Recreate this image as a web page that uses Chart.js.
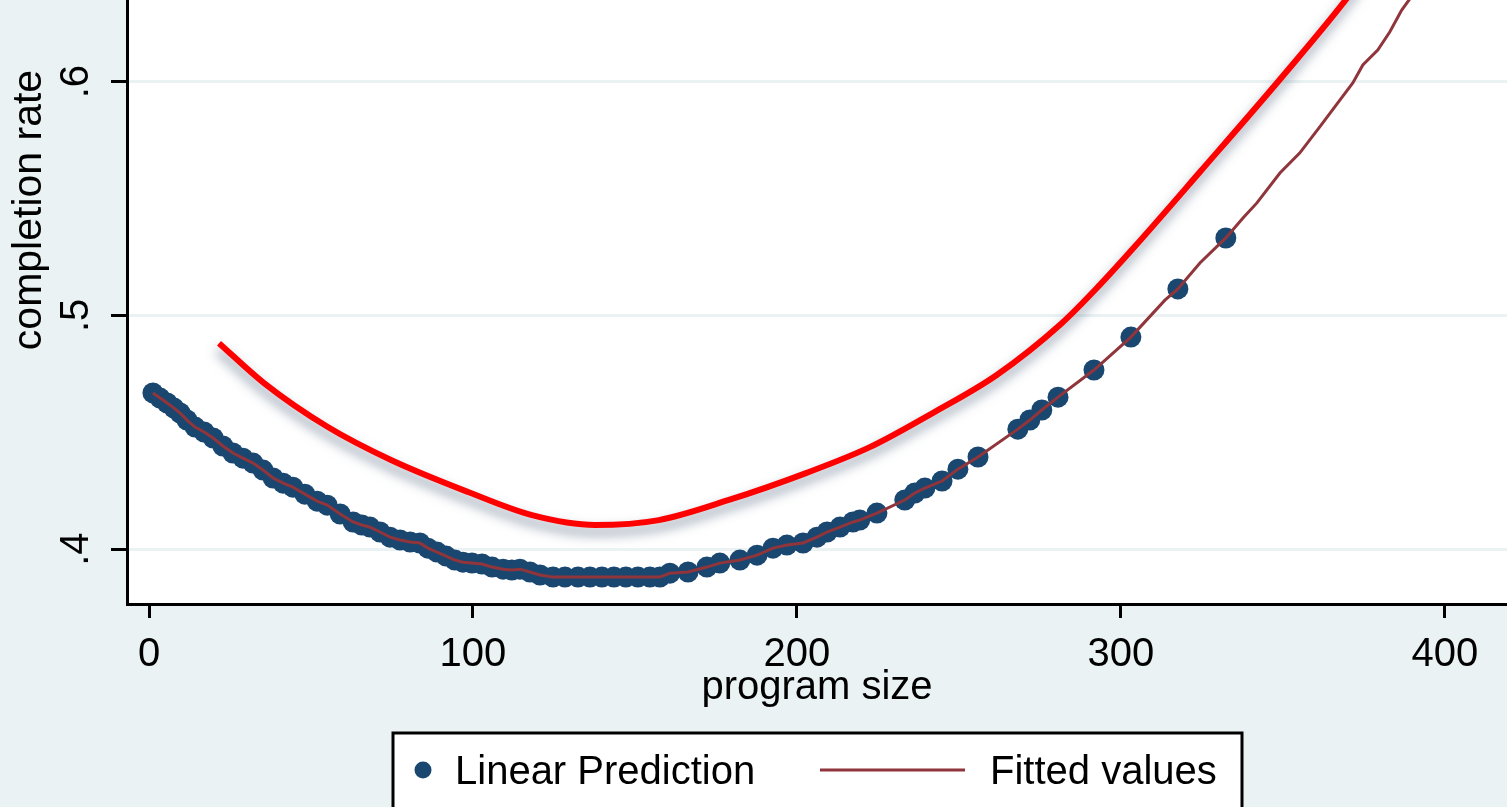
<!DOCTYPE html>
<html>
<head>
<meta charset="utf-8">
<title>completion rate by program size</title>
<script src="https://cdn.jsdelivr.net/npm/chart.js@4/dist/chart.umd.min.js"></script>
<style>
  html, body { margin: 0; padding: 0; background: #eaf2f3; }
  #wrap { width: 1507px; height: 807px; position: relative; }
</style>
</head>
<body>
<div id="wrap"><canvas id="chart"></canvas></div>
<script>
// program size (x) and predicted completion rate (y) for the scatter
const predSize = [1.2, 3.4, 5.6, 7.7, 9.6, 11.7, 14.2, 17.0, 19.8, 22.8, 25.9, 29.0, 32.1, 35.2, 38.3, 41.4, 44.4, 48.1, 51.9, 55.0,
  59.0, 63.0, 65.7, 68.2, 71.3, 74.4, 77.5, 80.6, 83.6, 86.1, 88.9, 91.7, 94.4, 96.9, 99.7, 102.8, 105.9, 109.3, 112.0, 114.5,
  117.6, 120.7, 124.7, 128.4, 132.4, 136.1, 139.8, 143.5, 147.2, 150.9, 154.6, 157.7, 160.8,
  166.4, 172.2, 176.2, 182.4, 187.7, 192.6, 196.9, 201.9, 206.2, 209.3, 213.3, 217.3, 219.4, 224.7,
  233.3, 236.4, 239.5, 244.8, 249.7, 255.9, 268.2, 271.9, 275.6, 280.6, 291.7, 303.1, 317.6, 332.4];
const predRate = [.4668, .4646, .4625, .4603, .4582, .4552, .4522, .4501, .4475, .4441, .4411, .4389, .4368, .4338, .4304, .4282, .4265, .4235, .4205, .4188,
  .4150, .4116, .4103, .4094, .4073, .4051, .4039, .4030, .4026, .4004, .3987, .3970, .3953, .3944, .3940, .3936, .3923, .3914, .3910, .3914,
  .3902, .3889, .3880, .3880, .3880, .3880, .3880, .3880, .3880, .3880, .3880, .3880, .3897,
  .3902, .3923, .3940, .3953, .3974, .4004, .4017, .4026, .4051, .4073, .4094, .4116, .4124, .4154,
  .4210, .4240, .4261, .4291, .4342, .4394, .4513, .4552, .4595, .4650, .4766, .4907, .5113, .5331];

// extra fitted-value points where there are no scatter dots
const fitExtraSize = [313.6, 324.4, 337.7, 342.0, 349.1, 355.2, 361.4, 367.6, 371.6, 374.7, 379.3, 383.0, 386.7, 390.1];
const fitExtraRate = [.5065, .5224, .5416, .5481, .5609, .5694, .5806, .5921, .5994, .6071, .6135, .6212, .6306, .6371];

// smooth red curve
const curveSize = [21.6, 35.5, 55.2, 74.7, 98.5, 118.2, 137.7, 157.4, 179.0, 202.8, 222.5, 241.9, 261.7, 281.5, 293.5, 304.3, 324.4, 350.0, 370.1, 376.0];
const curveRate = [.4881, .4710, .4522, .4381, .4244, .4145, .4103, .4124, .4210, .4325, .4436, .4582, .4745, .4963, .5130, .5294, .5613, .6024, .6362, .6475];

const xTicks = [0, 100, 200, 300, 400];
const yTicks = [0.4, 0.5, 0.6];
const yTickLabels = ['.4', '.5', '.6'];

const FONT = 'Liberation Sans, Arial, Helvetica, sans-serif';
const NAVY = '#1a476f';
const MAROON = '#90353b';

const predPoints = predSize.map((s, i) => ({x: s, y: predRate[i]}));
const fitPoints = predPoints.concat(fitExtraSize.map((s, i) => ({x: s, y: fitExtraRate[i]})))
  .sort((a, b) => a.x - b.x);
const curvePoints = curveSize.map((s, i) => ({x: s, y: curveRate[i]}));

// white plot region
const plotBg = {
  id: 'plotBg',
  beforeDraw(chart) {
    const a = chart.chartArea;
    const ctx = chart.ctx;
    ctx.save();
    ctx.fillStyle = '#ffffff';
    ctx.fillRect(a.left, a.top, a.right - a.left, a.bottom - a.top);
    ctx.restore();
  }
};

// drop shadow under the red curve
const curveShadow = {
  id: 'curveShadow',
  beforeDatasetDraw(chart, args) {
    if (args.index !== 2) return;
    const ctx = chart.ctx;
    ctx.save();
    ctx.shadowColor = 'rgba(60, 80, 110, 0.6)';
    ctx.shadowBlur = 12;
    ctx.shadowOffsetX = -1;
    ctx.shadowOffsetY = 7;
  },
  afterDatasetDraw(chart, args) {
    if (args.index !== 2) return;
    chart.ctx.restore();
  }
};

// y axis title sits off-centre because the original plot is cropped at the top
const yTitle = {
  id: 'yTitle',
  afterDraw(chart) {
    const ctx = chart.ctx;
    ctx.save();
    ctx.translate(30, 210);
    ctx.rotate(-Math.PI / 2);
    ctx.font = '41px ' + FONT;
    ctx.fillStyle = '#000';
    ctx.textAlign = 'center';
    ctx.textBaseline = 'middle';
    ctx.fillText('completion rate', 0, 0);
    ctx.restore();
  }
};

// boxed legend at the bottom
const boxLegend = {
  id: 'boxLegend',
  afterDraw(chart) {
    const ctx = chart.ctx;
    const ds = chart.data.datasets;
    ctx.save();
    ctx.fillStyle = '#ffffff';
    ctx.fillRect(393, 733, 849, 90);
    ctx.strokeStyle = '#000';
    ctx.lineWidth = 3;
    ctx.strokeRect(393, 733, 849, 90);

    ctx.fillStyle = NAVY;
    ctx.beginPath();
    ctx.arc(423, 770, 8.5, 0, Math.PI * 2);
    ctx.fill();

    ctx.strokeStyle = MAROON;
    ctx.lineWidth = 3;
    ctx.beginPath();
    ctx.moveTo(820, 770);
    ctx.lineTo(965, 770);
    ctx.stroke();

    ctx.fillStyle = '#000';
    ctx.font = '40px ' + FONT;
    ctx.textBaseline = 'middle';
    ctx.fillText(ds[0].label, 455, 773);
    ctx.fillText(ds[1].label, 990, 773);
    ctx.restore();
  }
};

new Chart(document.getElementById('chart'), {
  type: 'scatter',
  data: {
    datasets: [
      {
        label: 'Linear Prediction',
        data: predPoints,
        showLine: false,
        pointRadius: 10.5,
        pointBackgroundColor: NAVY,
        pointBorderWidth: 0,
        order: 2
      },
      {
        label: 'Fitted values',
        data: fitPoints,
        showLine: true,
        pointRadius: 0,
        borderColor: MAROON,
        borderWidth: 3,
        tension: 0,
        order: 1
      },
      {
        label: 'curve',
        data: curvePoints,
        showLine: true,
        pointRadius: 0,
        borderColor: '#ff0000',
        borderWidth: 6,
        cubicInterpolationMode: 'monotone',
        order: 3
      }
    ]
  },
  options: {
    responsive: true,
    maintainAspectRatio: false,
    animation: false,
    layout: { padding: 0, autoPadding: false },
    plugins: {
      legend: { display: false },
      tooltip: { enabled: false }
    },
    scales: {
      x: {
        type: 'linear',
        min: -6.8,
        max: 419.2,
        afterFit(scale) {
          scale.height = 203;
          scale.paddingLeft = 0;
          scale.paddingRight = 0;
        },
        afterBuildTicks(scale) {
          scale.ticks = xTicks.map(v => ({value: v}));
        },
        ticks: { padding: 13, color: '#000', font: { size: 40, family: FONT }, maxRotation: 0, autoSkip: false },
        grid: { drawOnChartArea: false, tickColor: '#000', tickWidth: 3, tickLength: 14 },
        border: { color: '#000', width: 3 },
        title: {
          display: true,
          text: 'program size',
          color: '#000',
          font: { size: 40, family: FONT },
          padding: { top: 0, bottom: 95 }
        }
      },
      y: {
        type: 'linear',
        min: 0.3765,
        max: 0.6349,
        afterFit(scale) {
          scale.width = 127;
          scale.paddingTop = 0;
          scale.paddingBottom = 0;
        },
        afterBuildTicks(scale) {
          scale.ticks = yTicks.map(v => ({value: v}));
        },
        ticks: {
          callback: (v, i) => yTickLabels[i],
          minRotation: 90,
          maxRotation: 90,
          crossAlign: 'center',
          padding: 17,
          color: '#000',
          font: { size: 40, family: FONT }
        },
        grid: { color: '#eaf2f3', lineWidth: 3, tickColor: '#000', tickWidth: 3, tickLength: 16 },
        border: { color: '#000', width: 3 }
      }
    }
  },
  plugins: [plotBg, curveShadow, yTitle, boxLegend]
});
</script>
</body>
</html>
